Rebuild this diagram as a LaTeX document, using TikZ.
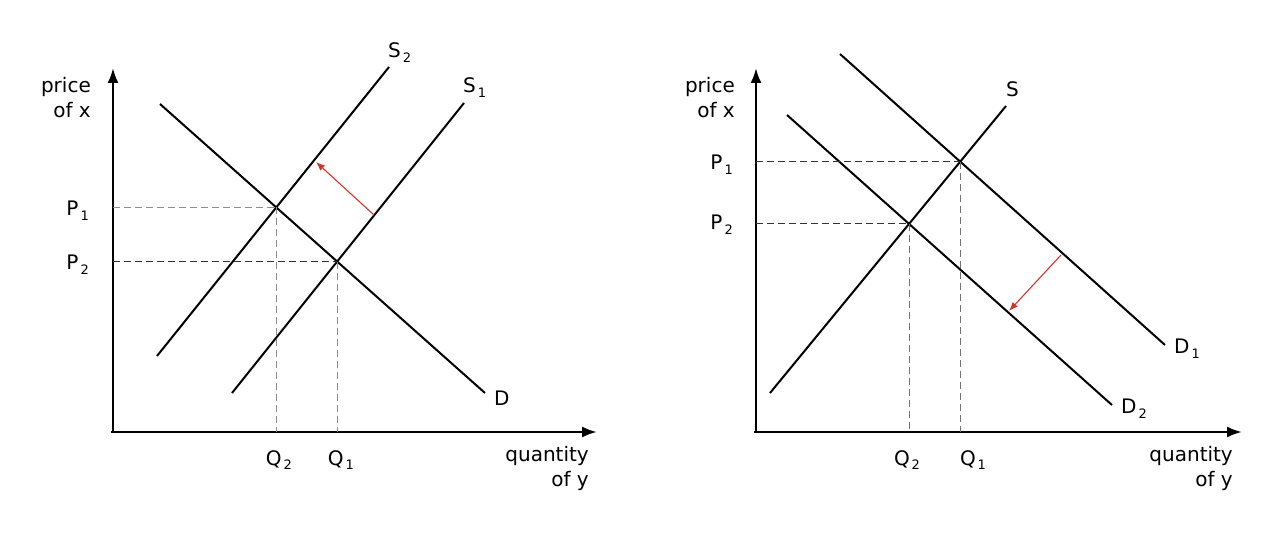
\documentclass[tikz,border=0pt]{standalone}
\usepackage{fontspec}
\setmainfont{DejaVu Sans}
\usetikzlibrary{arrows.meta}
\newcommand\subn[1]{\kern2pt\raisebox{-0.45ex}{\fontsize{13}{13}\selectfont #1}}
\begin{document}
\begin{tikzpicture}[x=1pt,y=-1pt,
  axis/.style={line width=2.4pt,-{Latex[length=15pt,width=11pt]}},
  curve/.style={line width=2pt,black},
  guide/.style={line width=1pt,dash pattern=on 7pt off 4pt,#1},
  guide/.default={black!80},
  shiftarrow/.style={line width=1.1pt,color={rgb,255:red,205;green,55;blue,45},-{Latex[length=9pt,width=7pt]}},
  lbl/.style={font=\fontsize{20}{25}\selectfont,inner sep=0pt}]
\useasboundingbox (0,0) rectangle (1280,534);
% ---------- left panel ----------
\coordinate (LO) at (113,432);
\coordinate (LYtop) at (113,68);
\coordinate (LXend) at (597,432);
\draw[axis] (LO) -- (LYtop);
\draw[axis] (111,432) coordinate (LXs) -- (LXend);
\coordinate (Da) at (160,104); \coordinate (Db) at (485,393);
\coordinate (S1a) at (232,393); \coordinate (S1b) at (464,103);
\coordinate (S2a) at (157,356); \coordinate (S2b) at (389,67);
\draw[curve] (Da) -- (Db);
\draw[curve] (S1a) -- (S1b);
\draw[curve] (S2a) -- (S2b);
\coordinate (E2) at (intersection of Da--Db and S2a--S2b);
\coordinate (E1) at (intersection of Da--Db and S1a--S1b);
\coordinate (P1L) at (LO |- E2); \coordinate (P2L) at (LO |- E1);
\coordinate (Q2L) at (E2 |- LO); \coordinate (Q1L) at (E1 |- LO);
\draw[guide=black!45] (P1L) -- (E2);
\draw[guide] (P2L) -- (E1);
\draw[guide=black!45] (E2) -- (Q2L);
\draw[guide=black!45] (E1) -- (Q1L);
\coordinate (LRa) at (374,215); \coordinate (LRb) at (316,162);
\draw[shiftarrow] (LRa) -- (LRb);
\node[lbl,align=right,anchor=east] (Lpy) at (91,98) {price\\of x};
\node[lbl,anchor=east] (LP1) at (89,211) {P\subn{1}};
\node[lbl,anchor=east] (LP2) at (89,265) {P\subn{2}};
\node[lbl,anchor=north] (LQ2) at (279,450) {Q\subn{2}};
\node[lbl,anchor=north] (LQ1) at (341,450) {Q\subn{1}};
\node[lbl,align=right,anchor=north east] (Lqx) at (589,446) {quantity\\of y};
\node[lbl,anchor=west] (LD) at (494,398) {D};
\node[lbl,anchor=west] (LS1) at (463,88) {S\subn{1}};
\node[lbl,anchor=west] (LS2) at (388,53) {S\subn{2}};
% ---------- right panel ----------
\coordinate (RO) at (756,432);
\coordinate (RYtop) at (756,68);
\coordinate (RXend) at (1242,432);
\draw[axis] (RO) -- (RYtop);
\draw[axis] (754,432) coordinate (RXs) -- (RXend);
\coordinate (Sa) at (770,393); \coordinate (Sb) at (1006,106);
\coordinate (D1a) at (840,54); \coordinate (D1b) at (1165,345);
\coordinate (D2a) at (787,115); \coordinate (D2b) at (1112,405);
\draw[curve] (Sa) -- (Sb);
\draw[curve] (D1a) -- (D1b);
\draw[curve] (D2a) -- (D2b);
\coordinate (F1) at (intersection of Sa--Sb and D1a--D1b);
\coordinate (F2) at (intersection of Sa--Sb and D2a--D2b);
\coordinate (P1R) at (RO |- F1); \coordinate (P2R) at (RO |- F2);
\coordinate (Q1R) at (F1 |- RO); \coordinate (Q2R) at (F2 |- RO);
\draw[guide] (P1R) -- (F1);
\draw[guide] (P2R) -- (F2);
\draw[guide=black!55] (F1) -- (Q1R);
\draw[guide=black!55] (F2) -- (Q2R);
\coordinate (RRa) at (1061,255); \coordinate (RRb) at (1009,311);
\draw[shiftarrow] (RRa) -- (RRb);
\node[lbl,align=right,anchor=east] (Rpy) at (735,98) {price\\of x};
\node[lbl,anchor=east] (RP1) at (733,165) {P\subn{1}};
\node[lbl,anchor=east] (RP2) at (733,225) {P\subn{2}};
\node[lbl,anchor=north] (RQ2) at (907,450) {Q\subn{2}};
\node[lbl,anchor=north] (RQ1) at (973,450) {Q\subn{1}};
\node[lbl,align=right,anchor=north east] (Rqx) at (1233,446) {quantity\\of y};
\node[lbl,anchor=west] (RS) at (1006,89) {S};
\node[lbl,anchor=west] (RD1) at (1174,349) {D\subn{1}};
\node[lbl,anchor=west] (RD2) at (1121,409) {D\subn{2}};
\end{tikzpicture}
\end{document}
